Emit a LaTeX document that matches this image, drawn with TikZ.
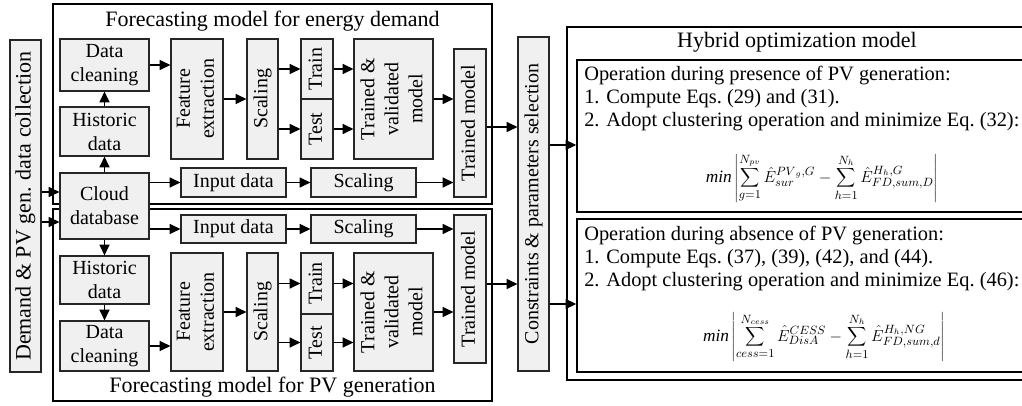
\documentclass[tikz,border=0pt]{standalone}
\usepackage{fontspec}
\setmainfont{Liberation Serif}
\usepackage{graphicx}
\usetikzlibrary{arrows.meta}
\definecolor{boxgray}{RGB}{240,240,240}
\newcommand{\vlabel}[1]{\rotatebox{90}{\begin{tabular}{@{}c@{}}#1\end{tabular}}}
\tikzset{
    box/.style={draw=black!85, fill=boxgray, line width=0.9pt, inner sep=0pt, align=center, font=\fontsize{15}{18}\selectfont},
    sz/.style 2 args={minimum width=#1*0.75pt, minimum height=#2*0.75pt},
    arr/.style={-{Triangle[length=8pt,width=7.5pt]}, line width=0.9pt},
    frame/.style={line width=0.8pt},
    heading/.style={font=\fontsize{16.5}{19}\selectfont, inner sep=0pt},
    optext/.style={anchor=north west, align=left, inner sep=0pt, font=\fontsize{15.3}{17.2}\selectfont},
    formula/.style={inner sep=0pt, font=\fontsize{13}{15}\selectfont},
}
\begin{document}
\begin{tikzpicture}[x=0.75pt, y=-0.75pt]
    \useasboundingbox (0,0) rectangle (1022,406);
    \clip (0,0) rectangle (1022,406);
    % forecasting frames
    \draw[frame] (53,4) rectangle (492,204);
    \draw[frame] (53,209) rectangle (492,401);
    \node[heading] (tdem) at (272.5,21) {Forecasting model for energy demand};
    \node[heading] (tpv) at (272.5,387) {Forecasting model for PV generation};
    % data source
    \node[box, sz={31}{332}, font=\fontsize{16.5}{19}\selectfont] (demand) at (25.5,206) {\vlabel{Demand \& PV gen. data collection}};
    \node[box, sz={89}{66}] (cloud) at (104.5,206) {Cloud\\database};
    % energy demand branch
    \node[box, sz={89}{52}] (dc1) at (104.5,65) {Data\\cleaning};
    \node[box, sz={89}{49}] (hd1) at (104.5,131.5) {Historic\\data};
    \node[box, sz={52}{120}] (fe1) at (197,99) {\vlabel{Feature\\extraction}};
    \node[box, sz={31}{120}] (sc1) at (262.5,99) {\vlabel{Scaling}};
    \node[box, sz={32}{60}] (tr1) at (317,69) {\vlabel{Train}};
    \node[box, sz={32}{60}] (te1) at (317,129) {\vlabel{Test}};
    \node[box, sz={79}{120}] (tv1) at (393.5,99) {\vlabel{Trained \&\\validated\\model}};
    \node[box, sz={32}{148}] (tm1) at (470,123) {\vlabel{Trained model}};
    \node[box, sz={105}{29}] (in1) at (233.5,182.5) {Input data};
    \node[box, sz={105}{29}] (sh1) at (363.5,182.5) {Scaling};
    % PV generation branch
    \node[box, sz={105}{28}] (in2) at (233.5,229) {Input data};
    \node[box, sz={105}{28}] (sh2) at (363.5,229) {Scaling};
    \node[box, sz={32}{148}] (tm2) at (470,289) {\vlabel{Trained model}};
    \node[box, sz={89}{48}] (hd2) at (104.5,280) {Historic\\data};
    \node[box, sz={89}{50}] (dc2) at (104.5,346) {Data\\cleaning};
    \node[box, sz={52}{118}] (fe2) at (197,312) {\vlabel{Feature\\extraction}};
    \node[box, sz={31}{118}] (sc2) at (262.5,312) {\vlabel{Scaling}};
    \node[box, sz={32}{61}] (tr2) at (317,283.5) {\vlabel{Train}};
    \node[box, sz={32}{57}] (te2) at (317,342.5) {\vlabel{Test}};
    \node[box, sz={79}{118}] (tv2) at (393.5,312) {\vlabel{Trained \&\\validated\\model}};
    % constraints
    \node[box, sz={31}{334}] (cons) at (533.5,204) {\vlabel{Constraints \& parameters selection}};
    % hybrid optimization
    \draw[line width=1.6pt] (567,27) rectangle (1040,380);
    \node[heading] (thyb) at (797,42) {Hybrid optimization model};
    \node[draw, line width=1.2pt, sz={463}{152}] (op1) at (808.5,136) {};
    \node[draw, line width=1.2pt, sz={463}{153}] (op2) at (808.5,295.5) {};
    \node[optext] (op1txt) at (584,66) {Operation during presence of PV generation:\\1. Compute Eqs.~(29) and (31).\\2. Adopt clustering operation and minimize Eq.~(32):};
    \node[optext] (op2txt) at (584,226) {Operation during absence of PV generation:\\1. Compute Eqs.~(37), (39), (42), and (44).\\2. Adopt clustering operation and minimize Eq.~(46):};
    \node[formula] (op1eq) at (822,178) {$\displaystyle \mathit{min}\left|\sum_{g=1}^{N_{pv}}\hat{E}_{sur}^{{PV}_g,G}-\sum_{h=1}^{N_h}\hat{E}_{FD,sum,D}^{H_h,G}\right|$};
    \node[formula] (op2eq) at (824,337) {$\displaystyle \mathit{min}\left|\sum_{cess=1}^{N_{cess}}\hat{E}_{DisA}^{CESS}-\sum_{h=1}^{N_h}\hat{E}_{FD,sum,d}^{H_h,NG}\right|$};
    % data source arrows
    \draw[arr] (demand.east |- 0,192) -- (cloud.west |- 0,192);
    \draw[arr] (demand.east |- 0,222) -- (cloud.west |- 0,222);
    % energy demand arrows
    \draw[arr] (cloud.north) -- (hd1.south);
    \draw[arr] (hd1.north) -- (dc1.south);
    \draw[arr] (dc1.east) -- (fe1.west |- dc1.east);
    \draw[arr] (fe1.east) -- (sc1.west);
    \draw[arr] (sc1.east |- tr1.west) -- (tr1.west);
    \draw[arr] (sc1.east |- te1.west) -- (te1.west);
    \draw[arr] (tr1.east) -- (tv1.west |- tr1.east);
    \draw[arr] (te1.east) -- (tv1.west |- te1.east);
    \draw[arr] (tv1.east) -- (tm1.west |- tv1.east);
    \draw[arr] (cloud.east |- in1.west) -- (in1.west);
    \draw[arr] (in1.east) -- (sh1.west);
    \draw[arr] (sh1.east) -- (tm1.west |- sh1.east);
    \draw[arr] (tm1.east |- 0,127) -- (cons.west |- 0,127);
    % PV generation arrows
    \draw[arr] (cloud.south) -- (hd2.north);
    \draw[arr] (hd2.south) -- (dc2.north);
    \draw[arr] (dc2.east) -- (fe2.west |- dc2.east);
    \draw[arr] (fe2.east) -- (sc2.west);
    \draw[arr] (sc2.east |- tr2.west) -- (tr2.west);
    \draw[arr] (sc2.east |- te2.west) -- (te2.west);
    \draw[arr] (tr2.east) -- (tv2.west |- tr2.east);
    \draw[arr] (te2.east) -- (tv2.west |- te2.east);
    \draw[arr] (tv2.east) -- (tm2.west |- tv2.east);
    \draw[arr] (cloud.east |- in2.west) -- (in2.west);
    \draw[arr] (in2.east) -- (sh2.west);
    \draw[arr] (sh2.east) -- (tm2.west |- sh2.east);
    \draw[arr] (tm2.east |- 0,284) -- (cons.west |- 0,284);
    % into the optimization model
    \draw[arr] (cons.east |- 0,145) -- (op1.west |- 0,145);
    \draw[arr] (cons.east |- 0,304) -- (op2.west |- 0,304);
\end{tikzpicture}
\end{document}
